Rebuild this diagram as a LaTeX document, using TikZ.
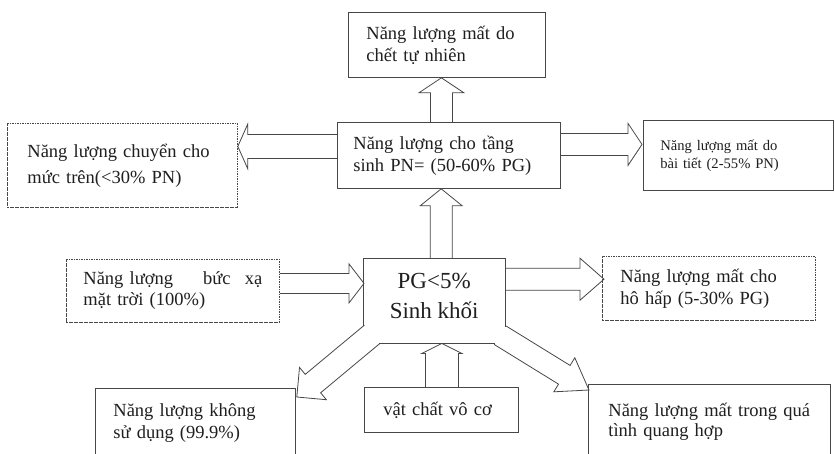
\documentclass[tikz,border=0pt]{standalone}
\usepackage{fontspec}
\setmainfont{Liberation Serif}
\usetikzlibrary{calc}
\tikzset{
  box/.style={draw=black!72, line width=0.8pt, fill=white, anchor=north west, align=left,
    inner ysep=0pt, text=black!88, font=\fontsize{18.5}{22}\selectfont},
  dotbox/.style={box, dash pattern=on 1.6pt off 0.9pt},
  arr/.style={draw=black!72, line width=0.8pt, line join=miter},
}
\newcommand\blockarr[5]{%
  \coordinate (hb) at ($(#2)!#5!(#1)$);
  \draw[arr] ($(#1)!#3!90:(#2)$) -- ($(hb)!#3!90:(#2)$) -- ($(hb)!#4!90:(#2)$) -- (#2)
    -- ($(hb)!#4!-90:(#2)$) -- ($(hb)!#3!-90:(#2)$) -- ($(#1)!#3!-90:(#2)$);}
\newcommand\upby[1]{\raisebox{5pt}[\height][\depth]{#1}}
\begin{document}
\begin{tikzpicture}[x=1pt,y=-1pt]
\useasboundingbox (0,0) rectangle (835,453);
\clip (0,0) rectangle (835,453);
\fill[white] (0,0) rectangle (835,453);
% boxes
\node[box, minimum width=197pt, minimum height=65pt, inner xsep=18pt, text width=161pt] (top) at (348,12)
  {Năng lượng mất do\\chết tự nhiên};
\node[box, minimum width=223pt, minimum height=66pt, inner xsep=16pt, text width=191pt] (mid) at (337,122)
  {Năng lượng cho tầng\\sinh PN= (50-60\% PG)};
\node[dotbox, minimum width=230pt, minimum height=84pt, inner xsep=20pt, text width=190pt,
  font=\fontsize{18.5}{26}\selectfont] (left) at (7,123)
  {Năng lượng chuyển cho\\mức trên(<30\% PN)};
\node[box, minimum width=190pt, minimum height=70pt, inner xsep=17pt, text width=156pt,
  font=\fontsize{14.6}{18}\selectfont] (right) at (643,120)
  {Năng lượng mất do\\bài tiết (2-55\% PN)};
\node[dotbox, minimum width=213pt, minimum height=63pt, inner xsep=17pt, text width=179pt,
  font=\fontsize{18.5}{21}\selectfont] (solar) at (66,259)
  {\hbox to 179pt{Năng lượng\hspace{30pt}bức\hfill xạ}\\mặt trời (100\%)};
\node[anchor=north west, minimum width=142pt, minimum height=85pt, inner sep=0pt, align=center,
  text=black!88, font=\fontsize{23}{30}\selectfont] (pg) at (363,258)
  {\upby{PG<5\%}\\\upby{Sinh khối}};
\node[dotbox, minimum width=213pt, minimum height=64pt, inner xsep=18pt, text width=177pt] (resp) at (602,256)
  {Năng lượng mất cho\\hô hấp (5-30\% PG)};
\node[box, minimum width=200pt, minimum height=70pt, inner xsep=18pt, text width=164pt] (unused) at (95,388)
  {Năng lượng không\\sử dụng (99.9\%)};
\node[box, minimum width=154pt, minimum height=45pt, inner xsep=19pt, text width=116pt] (vat) at (364,387)
  {vật chất vô cơ};
\node[box, minimum width=242pt, minimum height=74pt, inner xsep=20pt, text width=202pt,
  font=\fontsize{18.5}{20}\selectfont] (photo) at (588,384)
  {Năng lượng mất trong quá\\tình quang hợp};
% arrow end points
\coordinate (s1) at ($(mid.north)+(-7.5,0)$);
\coordinate (e1) at (s1 |- top.south);
\coordinate (s2) at ($(mid.west)+(0,-9)$);
\coordinate (e2) at (s2 -| left.east);
\coordinate (s3) at ($(mid.east)+(0,-11)$);
\coordinate (e3) at ($(s3 -| right.west)+(-1,0)$);
\coordinate (s4) at ($(pg.north)+(7,0)$);
\coordinate (e4) at (s4 |- mid.south);
\coordinate (s5) at ($(solar.east)+(0,-7.5)$);
\coordinate (e5) at ($(s5 -| pg.west)+(1,0)$);
\coordinate (s6) at ($(pg.east)+(0,-21.5)$);
\coordinate (e6) at ($(s6 -| resp.west)+(2,0)$);
\coordinate (s7) at ($(pg.south west)+(9,-9)$);
\coordinate (e7) at ($(unused.north east)+(1,9)$);
\coordinate (s8) at ($(pg.south east)+(-5,-8)$);
\coordinate (e8) at ($(photo.north west)+(1,6)$);
\coordinate (s9) at ($(vat.north)+(0.5,0)$);
\coordinate (e9) at (s9 |- pg.south);
% PG outline merged with the diagonal arrows
\coordinate (p7L) at ($(s7)!12pt!-90:(e7)$);
\coordinate (p7B) at ($(s7)!12pt!90:(e7)$);
\coordinate (p8R) at ($(s8)!11pt!90:(e8)$);
\coordinate (p8B) at ($(s8)!11pt!-90:(e8)$);
\draw[arr] (p7L) -- (pg.west |- p7L) -- (pg.north west) -- (pg.north east) -- (pg.east |- p8R) -- (p8R);
\draw[arr] (p7B) -- (p7B |- pg.south) -- (p8B |- pg.south) -- (p8B);
% block arrows
\blockarr{s1}{e1}{11pt}{22.5pt}{15pt}
\blockarr{s2}{e2}{12pt}{22.5pt}{10pt}
\blockarr{s3}{e3}{11pt}{21pt}{14pt}
\blockarr{s4}{e4}{11pt}{21pt}{17pt}
\blockarr{s5}{e5}{10pt}{19.5pt}{15pt}
\blockarr{s6}{e6}{11pt}{21pt}{24pt}
\blockarr{s7}{e7}{12pt}{21pt}{21pt}
\blockarr{s8}{e8}{11pt}{20pt}{29pt}
\blockarr{s9}{e9}{16.5pt}{20pt}{10pt}
\end{tikzpicture}
\end{document}
